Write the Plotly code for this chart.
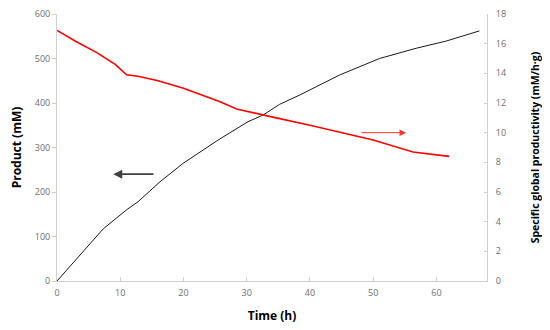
import plotly.graph_objects as go

# Product (mM), left axis
time_product = [0, 4.2, 7.3, 11.0, 12.8, 16.3, 19.9, 25.5, 28.4, 30.2, 32.6, 35.2, 38.4, 44.7, 51, 56.8, 61.5, 66.8]
product = [0, 68, 117, 160, 178, 223, 264, 317, 343, 358, 373, 397, 418, 463, 500, 523, 539, 562]

# Specific global productivity (mM/h·g), right axis
time_prod = [0, 3, 6.3, 9.2, 11.0, 12.8, 16, 20, 25.7, 28.4, 33.6, 40, 50, 56.3, 62]
productivity = [16.9, 16.15, 15.4, 14.6, 13.9, 13.8, 13.5, 13.0, 12.1, 11.6, 11.1, 10.5, 9.5, 8.7, 8.4]

fig = go.Figure()
fig.add_trace(go.Scatter(x=time_product, y=product, mode="lines",
                         line=dict(color="#1a1a1a", width=1), yaxis="y", showlegend=False))
fig.add_trace(go.Scatter(x=time_prod, y=productivity, mode="lines",
                         line=dict(color="#ff0000", width=1.6), yaxis="y2", showlegend=False))

tickfont = dict(family="Open Sans, sans-serif", size=9, color="#6e6e6e")
titlefont = dict(family="Open Sans, sans-serif", size=12, color="#000000", weight="bold")
titlefont2 = dict(family="Open Sans, sans-serif", size=10.5, color="#000000", weight="bold")

fig.update_layout(
    width=550, height=330,
    margin=dict(l=49, r=71, t=6, b=57),
    paper_bgcolor="white", plot_bgcolor="white",
    xaxis=dict(range=[0, 68], tickvals=[0, 10, 20, 30, 40, 50, 60], showgrid=False, zeroline=False,
               automargin=False, ticklabeloverflow="allow", ticklabelstandoff=3,
               showline=True, linecolor="#d0d0d0", linewidth=1, ticks="inside", ticklen=4,
               tickcolor="#d0d0d0", tickfont=tickfont,
               title=dict(text="Time (h)", font=titlefont, standoff=13)),
    yaxis=dict(range=[0, 600], tickvals=[0, 100, 200, 300, 400, 500, 600], showgrid=False, zeroline=False,
               automargin=False, ticklabeloverflow="allow",
               showline=True, linecolor="#d0d0d0", linewidth=1, ticks="outside", ticklen=4,
               tickcolor="#d0d0d0", tickfont=tickfont,
               title=dict(text="Product (mM)", font=titlefont, standoff=12)),
    yaxis2=dict(range=[0, 18], tickvals=list(range(0, 19, 2)), overlaying="y", side="right",
                automargin=False, ticklabeloverflow="allow", ticklabelstandoff=6,
                showgrid=False, zeroline=False, showline=True, linecolor="#d0d0d0", linewidth=1,
                ticks="inside", ticklen=3, tickcolor="#d0d0d0", tickfont=tickfont,
                title=dict(text="Specific global productivity (mM/h·g)", font=titlefont2, standoff=26)),
)

fig.add_annotation(x=8.9, y=240, ax=15.5, ay=240, xref="x", yref="y", axref="x", ayref="y",
                   showarrow=True, arrowhead=2, arrowsize=1, arrowwidth=1.8, arrowcolor="#404040", text="")
fig.add_annotation(x=55.2, y=10.0, ax=47.9, ay=10.0, xref="x", yref="y2", axref="x", ayref="y2",
                   showarrow=True, arrowhead=2, arrowsize=1.3, arrowwidth=1, arrowcolor="#ff3030", text="")

fig.write_html("out.html")
